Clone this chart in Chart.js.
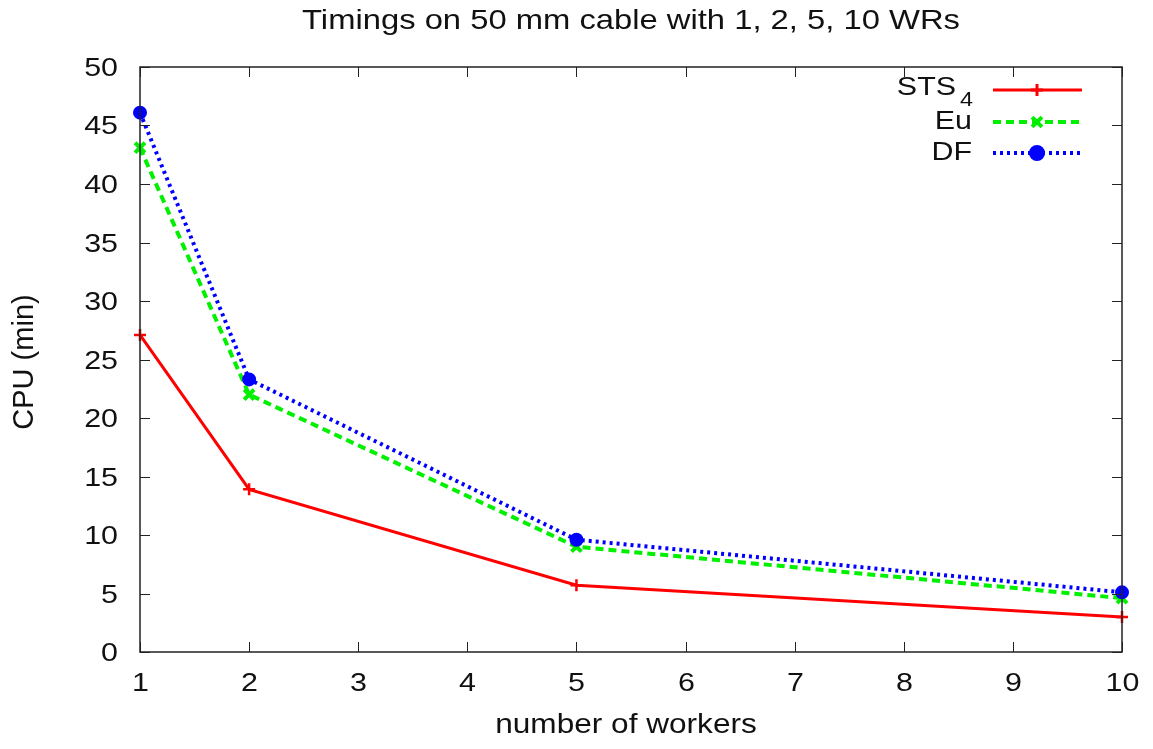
<!DOCTYPE html>
<html><head><meta charset="utf-8">
<script src="https://cdn.jsdelivr.net/npm/chart.js@4.4.1/dist/chart.umd.min.js"></script>
<style>html,body{margin:0;padding:0;background:#fff}#wrap{width:1153px;height:749px}</style>
</head><body><div id="wrap"><canvas id="c" width="1153" height="749"></canvas></div>
<script>
const workers = [1, 2, 5, 10];
const sts4 = [27.1, 13.9, 5.7, 3.0];
const eu = [43.1, 22.0, 9.0, 4.6];
const df = [46.1, 23.3, 9.6, 5.1];
const xTicks = [1,2,3,4,5,6,7,8,9,10];
const yTicks = [0,5,10,15,20,25,30,35,40,45,50];
const titleText = 'Timings on 50 mm cable with 1, 2, 5, 10 WRs';
const xTitle = 'number of workers';
const yTitle = 'CPU (min)';
const FONT = "'Liberation Sans', Arial, sans-serif";
const SX = 1.17;

function pts(arr){ return workers.map((w,i)=>({x:w,y:arr[i]})); }

const legendItems = [
  {label:'STS', sub:'4', color:'#ff0000', dash:[], width:3, style:'cross', r:6, bw:2.5},
  {label:'Eu', color:'#00f000', dash:[8,5], width:4, style:'crossRot', r:7, bw:4},
  {label:'DF', color:'#0000ff', dash:[3,4], width:4, style:'circle', r:6, bw:2}
];

function txt(ctx, s, x, y, align, size, sx){
  ctx.save();
  ctx.translate(x, y);
  ctx.scale(sx, 1);
  ctx.font = size + 'px ' + FONT;
  ctx.textAlign = align; ctx.textBaseline = 'middle';
  ctx.fillStyle = '#111';
  ctx.fillText(s, 0, 0);
  ctx.restore();
}

const framePlugin = {
  id:'frame',
  afterDraw(chart){
    const {ctx, chartArea:a, scales:{x,y}} = chart;
    ctx.save();
    ctx.strokeStyle = '#222'; ctx.lineWidth = 1.5; ctx.setLineDash([]);
    ctx.strokeRect(a.left, a.top, a.right-a.left, a.bottom-a.top);
    ctx.lineWidth = 1;
    const L = 10;
    xTicks.forEach(v=>{
      const px = Math.round(x.getPixelForValue(v))+0.5;
      ctx.beginPath(); ctx.moveTo(px,a.bottom); ctx.lineTo(px,a.bottom-L);
      ctx.moveTo(px,a.top); ctx.lineTo(px,a.top+L); ctx.stroke();
      txt(ctx, String(v), px, 684, 'center', 26, SX);
    });
    yTicks.forEach(v=>{
      const py = Math.round(y.getPixelForValue(v))+0.5;
      ctx.beginPath(); ctx.moveTo(a.left,py); ctx.lineTo(a.left+L,py);
      ctx.moveTo(a.right,py); ctx.lineTo(a.right-L,py); ctx.stroke();
      txt(ctx, String(v), 118, py+1, 'right', 26, SX);
    });
    // titles
    txt(ctx, titleText, 631, 21, 'center', 28, SX);
    txt(ctx, xTitle, 626, 726, 'center', 27, SX);
    ctx.save();
    ctx.translate(25, 362);
    ctx.rotate(-Math.PI/2);
    ctx.font = '29px ' + FONT;
    ctx.textAlign = 'center'; ctx.textBaseline = 'middle';
    ctx.fillStyle = '#111';
    ctx.fillText(yTitle, 0, 0);
    ctx.restore();
    // legend
    const rows = [90, 122, 153];
    legendItems.forEach((it,i)=>{
      const yy = rows[i];
      if (it.sub){
        txt(ctx, it.sub, 973, yy+10, 'right', 20, SX);
        txt(ctx, it.label, 956, yy-2, 'right', 26, SX);
      } else {
        txt(ctx, it.label, 972, yy, 'right', 26, SX);
      }
      ctx.strokeStyle = it.color; ctx.lineWidth = it.width; ctx.setLineDash(it.dash);
      ctx.beginPath(); ctx.moveTo(993, yy); ctx.lineTo(1082, yy); ctx.stroke();
      ctx.setLineDash([]);
      ctx.strokeStyle = it.color; ctx.fillStyle = it.color;
      Chart.helpers.drawPoint(ctx, {pointStyle:it.style, radius:it.r, borderWidth:it.bw}, 1037, yy);
    });
    ctx.restore();
  }
};

function ds(label, data, it, order){
  return {
    label, data: pts(data), order,
    borderColor: it.color, backgroundColor: it.color,
    borderWidth: it.width, borderDash: it.dash,
    pointStyle: it.style, pointRadius: it.r, pointBorderWidth: it.bw,
    pointBackgroundColor: it.color, pointBorderColor: it.color,
    tension: 0, clip: false
  };
}

new Chart(document.getElementById('c'), {
  type:'line',
  data:{ datasets:[
    ds('STS4', sts4, legendItems[0], 3),
    ds('Eu', eu, legendItems[1], 2),
    ds('DF', df, legendItems[2], 1)
  ]},
  options:{
    responsive:false, animation:false, devicePixelRatio:1,
    layout:{padding:{top:67, right:31, left:0, bottom:0}},
    plugins:{legend:{display:false}, tooltip:{enabled:false}, title:{display:false}},
    scales:{
      x:{ type:'linear', min:1, max:10,
        afterFit(s){ s.height = 97; },
        afterBuildTicks(s){ s.ticks = xTicks.map(v=>({value:v})); },
        grid:{display:false}, border:{display:false},
        ticks:{ display:false }
      },
      y:{ type:'linear', min:0, max:50,
        afterFit(s){ s.width = 140; },
        afterBuildTicks(s){ s.ticks = yTicks.map(v=>({value:v})); },
        grid:{display:false}, border:{display:false},
        ticks:{ display:false }
      }
    }
  },
  plugins:[framePlugin]
});
</script>
</body></html>
